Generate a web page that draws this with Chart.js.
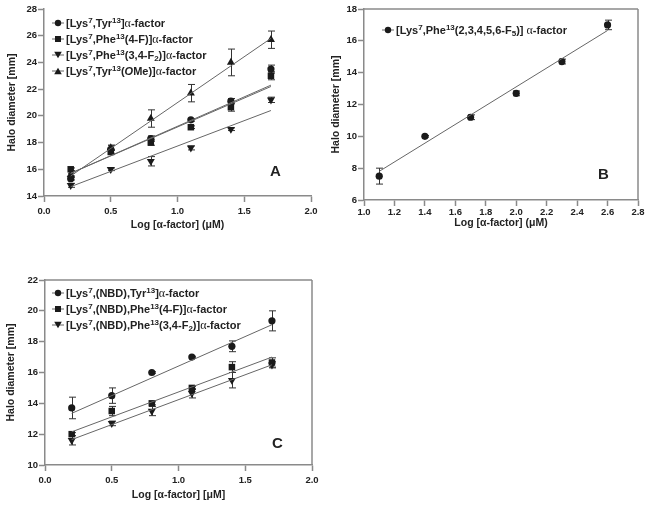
<!DOCTYPE html>
<html>
<head>
<meta charset="utf-8">
<script src="https://cdn.jsdelivr.net/npm/chart.js@4.4.0/dist/chart.umd.min.js"></script>
<style>
body{margin:0;background:#fff;width:649px;height:506px;position:relative;overflow:hidden;font-family:"Liberation Sans",Arial,sans-serif}
canvas{position:absolute}
.leg{position:absolute;font-weight:bold;font-size:11px;color:#222;white-space:nowrap}
.leg div{height:16px;line-height:16px}
.leg svg{vertical-align:middle;margin-right:2px;position:relative;top:-1px}
.leg sup{font-size:8px;position:relative;top:-4px;vertical-align:baseline}
.leg sub{font-size:8px;position:relative;top:2px;vertical-align:baseline}
.a{font-family:"Liberation Serif",serif;font-weight:normal;font-size:12px}
.lbl{position:absolute;font-weight:bold;font-size:15px;color:#222}
</style>
</head>
<body>
<canvas id="cA" width="330" height="240" style="left:0;top:0"></canvas>
<canvas id="cB" width="327" height="240" style="left:322px;top:0"></canvas>
<canvas id="cC" width="330" height="236" style="left:0;top:270px"></canvas>

<div class="leg" id="legA" style="left:52px;top:15px"></div>
<div class="leg" id="legB" style="left:382px;top:22px"></div>
<div class="leg" id="legC" style="left:52px;top:285px"></div>
<div class="lbl" style="left:270px;top:162px">A</div>
<div class="lbl" style="left:598px;top:165px">B</div>
<div class="lbl" style="left:272px;top:434px">C</div>

<script>
// panel A
var xA = [0.2, 0.5, 0.8, 1.1, 1.4, 1.7]
var tyr = [15.3, 17.5, 18.3, 19.7, 21.1, 23.5]
var tyrErr = [0.1, 0.3, 0.2, 0.1, 0.2, 0.3]
var phe4F = [16.0, 17.3, 18.0, 19.15, 20.65, 23.0]
var phe4FErr = [0.1, 0.2, 0.2, 0.1, 0.3, 0.3]
var phe34F2 = [14.8, 16.0, 16.6, 17.6, 19.0, 21.2]
var phe34F2Err = [0.15, 0.1, 0.35, 0.15, 0.1, 0.2]
var tyrOMe = [15.6, 17.6, 19.8, 21.7, 24.0, 25.7]
var tyrOMeErr = [0.1, 0.2, 0.65, 0.65, 1.0, 0.65]
// fitted line ends (at first and last x)
var tyrFit = [15.7, 22.3]
var phe4FFit = [15.7, 22.2]
var phe34F2Fit = [14.7, 20.4]
var tyrOMeFit = [15.5, 25.8]

// panel B
var xB = [1.1, 1.4, 1.7, 2.0, 2.3, 2.6]
var pheF5 = [7.5, 10.0, 11.2, 12.7, 14.7, 17.0]
var pheF5Err = [0.5, 0.05, 0.15, 0.15, 0.15, 0.3]
var pheF5Fit = [7.8, 16.65]

// panel C
var xC = [0.2, 0.5, 0.8, 1.1, 1.4, 1.7]
var nbdTyr = [13.7, 14.5, 16.0, 17.0, 17.7, 19.35]
var nbdTyrErr = [0.7, 0.5, 0.05, 0.05, 0.35, 0.65]
var nbdPhe4F = [12.0, 13.5, 14.0, 15.0, 16.35, 16.65]
var nbdPhe4FErr = [0.1, 0.3, 0.1, 0.1, 0.35, 0.3]
var nbdPhe34F2 = [11.6, 12.7, 13.5, 14.65, 15.5, 16.5]
var nbdPhe34F2Err = [0.3, 0.15, 0.3, 0.3, 0.5, 0.2]
var nbdTyrFit = [13.35, 19.1]
var nbdPhe4FFit = [12.15, 17.0]
var nbdPhe34F2Fit = [11.65, 16.5]

var A = '<span class="a">α</span>'
var labelsA = [
    "[Lys<sup>7</sup>,Tyr<sup>13</sup>]" + A + "-factor",
    "[Lys<sup>7</sup>,Phe<sup>13</sup>(4-F)]" + A + "-factor",
    "[Lys<sup>7</sup>,Phe<sup>13</sup>(3,4-F<sub>2</sub>)]" + A + "-factor",
    "[Lys<sup>7</sup>,Tyr<sup>13</sup>(<i>O</i>Me)]" + A + "-factor"
]
var labelsB = ["[Lys<sup>7</sup>,Phe<sup>13</sup>(2,3,4,5,6-F<sub>5</sub>)] " + A + "-factor"]
var labelsC = [
    "[Lys<sup>7</sup>,(NBD),Tyr<sup>13</sup>]" + A + "-factor",
    "[Lys<sup>7</sup>,(NBD),Phe<sup>13</sup>(4-F)]" + A + "-factor",
    "[Lys<sup>7</sup>,(NBD),Phe<sup>13</sup>(3,4-F<sub>2</sub>)]" + A + "-factor"
]

var INK = "#1a1a1a"
var AXIS = "#8a8a8a"
var FIT = "#666"

var marks = {
    circle: { pointStyle: "circle", radius: 3.6, rotation: 0 },
    square: { pointStyle: "rect", radius: 4.6, rotation: 0 },
    down: { pointStyle: "triangle", radius: 4.6, rotation: 180 },
    up: { pointStyle: "triangle", radius: 4.6, rotation: 0 }
}

function svg_mark(kind) {
    var s = '<svg width="12" height="10" viewBox="0 0 12 10"><line x1="0" y1="5" x2="12" y2="5" stroke="' + FIT + '" stroke-width="1"/>'
    if (kind == "circle") s += '<circle cx="6" cy="5" r="3.2" fill="' + INK + '"/>'
    if (kind == "square") s += '<rect x="3" y="2" width="6" height="6" fill="' + INK + '"/>'
    if (kind == "down") s += '<polygon points="2.2,1.8 9.8,1.8 6,8.2" fill="' + INK + '"/>'
    if (kind == "up") s += '<polygon points="2.2,8.2 9.8,8.2 6,1.8" fill="' + INK + '"/>'
    return s + '</svg>'
}

function legenda(id, labels, kinds) {
    var html = ""
    labels.forEach((l, i) => {
        html += "<div>" + svg_mark(kinds[i]) + l + "</div>"
    })
    document.getElementById(id).innerHTML = html
}

const errorBars = {
    id: "errorBars",
    beforeDatasetsDraw(chart) {
        const ctx = chart.ctx
        const x = chart.scales.x, y = chart.scales.y
        chart.data.datasets.forEach(ds => {
            if (!ds.errors) return
            ctx.save()
            ctx.strokeStyle = "#333"
            ctx.lineWidth = 1
            ds.data.forEach((p, i) => {
                const e = ds.errors[i]
                if (!e) return
                const px = Math.round(x.getPixelForValue(p.x)) + 0.5
                const y1 = y.getPixelForValue(p.y + e), y2 = y.getPixelForValue(p.y - e)
                ctx.beginPath()
                ctx.moveTo(px, y1); ctx.lineTo(px, y2)
                ctx.moveTo(px - 3.5, y1); ctx.lineTo(px + 3.5, y1)
                ctx.moveTo(px - 3.5, y2); ctx.lineTo(px + 3.5, y2)
                ctx.stroke()
            })
            ctx.restore()
        })
    }
}

const frame = {
    id: "frame",
    afterDraw(chart, args, opts) {
        const a = chart.chartArea, ctx = chart.ctx
        ctx.save()
        ctx.strokeStyle = AXIS
        ctx.lineWidth = 1.5
        ctx.beginPath()
        if (opts.top) { ctx.moveTo(a.left, a.top); ctx.lineTo(a.right, a.top) }
        if (opts.right) { ctx.moveTo(a.right, a.top); ctx.lineTo(a.right, a.bottom) }
        ctx.stroke()
        ctx.restore()
    }
}

function pontos(xs, ys, errs, kind) {
    const m = marks[kind]
    return {
        data: xs.map((x, i) => ({ x: x, y: ys[i] })),
        errors: errs,
        showLine: false,
        pointStyle: m.pointStyle,
        pointRadius: m.radius,
        pointRotation: m.rotation,
        pointBackgroundColor: INK,
        pointBorderColor: INK,
        pointBorderWidth: 0
    }
}

function recta(xs, fit) {
    return {
        data: [{ x: xs[0], y: fit[0] }, { x: xs[xs.length - 1], y: fit[1] }],
        showLine: true,
        borderColor: FIT,
        borderWidth: 1,
        pointRadius: 0
    }
}

function criar_grafico(id, cfg) {
    const tickFont = { family: "Liberation Sans", weight: "bold", size: 9.5 }
    const titleFont = { family: "Liberation Sans", weight: "bold", size: 10.5 }
    return new Chart(document.getElementById(id), {
        type: "scatter",
        data: { datasets: cfg.datasets },
        plugins: [errorBars, frame],
        options: {
            responsive: false,
            animation: false,
            devicePixelRatio: 1,
            layout: { padding: cfg.padding },
            plugins: {
                legend: { display: false },
                tooltip: { enabled: false },
                frame: cfg.frame
            },
            scales: {
                x: {
                    type: "linear",
                    min: cfg.xmin, max: cfg.xmax,
                    ticks: { stepSize: cfg.xstep, font: tickFont, color: "#222", padding: cfg.xtickPad,
                        callback: v => v.toFixed(1) },
                    grid: { drawOnChartArea: false, tickLength: 6, tickColor: AXIS, tickWidth: 1.5 },
                    border: { color: AXIS, width: 1.5 },
                    title: { display: true, text: cfg.xtitle, font: titleFont, color: "#222",
                        padding: { top: 0, bottom: cfg.xtitlePad } },
                    afterFit: s => { s.height = cfg.xh }
                },
                y: {
                    type: "linear",
                    min: cfg.ymin, max: cfg.ymax,
                    ticks: { stepSize: 2, font: tickFont, color: "#222", padding: 1 },
                    grid: { drawOnChartArea: false, tickLength: 6, tickColor: AXIS, tickWidth: 1.5 },
                    border: { color: AXIS, width: 1.5 },
                    title: { display: true, text: "Halo diameter [mm]", font: titleFont, color: "#222",
                        padding: { top: cfg.ytitlePad, bottom: 0 } },
                    afterFit: s => { s.width = cfg.yw }
                }
            }
        }
    })
}

criar_grafico("cA", {
    datasets: [
        recta(xA, tyrFit), recta(xA, phe4FFit), recta(xA, phe34F2Fit), recta(xA, tyrOMeFit),
        pontos(xA, tyr, tyrErr, "circle"),
        pontos(xA, phe4F, phe4FErr, "square"),
        pontos(xA, phe34F2, phe34F2Err, "down"),
        pontos(xA, tyrOMe, tyrOMeErr, "up")
    ],
    xmin: 0, xmax: 2, xstep: 0.5, ymin: 14, ymax: 28,
    xtitle: "Log [α-factor] (μM)",
    padding: { left: 0, right: 19, top: 9, bottom: 0 },
    xh: 44, yw: 44, xtitlePad: 8.7, ytitlePad: 5.7, xtickPad: 4,
    frame: { top: false, right: false }
})

criar_grafico("cB", {
    datasets: [
        recta(xB, pheF5Fit),
        pontos(xB, pheF5, pheF5Err, "circle")
    ],
    xmin: 1.0, xmax: 2.8, xstep: 0.2, ymin: 6, ymax: 18,
    xtitle: "Log [α-factor] (μM)",
    padding: { left: 0, right: 11, top: 9, bottom: 0 },
    xh: 40, yw: 42, xtitlePad: 11, ytitlePad: 7.7, xtickPad: 1,
    frame: { top: true, right: true }
})

criar_grafico("cC", {
    datasets: [
        recta(xC, nbdTyrFit), recta(xC, nbdPhe4FFit), recta(xC, nbdPhe34F2Fit),
        pontos(xC, nbdTyr, nbdTyrErr, "circle"),
        pontos(xC, nbdPhe4F, nbdPhe4FErr, "square"),
        pontos(xC, nbdPhe34F2, nbdPhe34F2Err, "down")
    ],
    xmin: 0, xmax: 2, xstep: 0.5, ymin: 10, ymax: 22,
    xtitle: "Log [α-factor] [μM]",
    padding: { left: 0, right: 18, top: 10, bottom: 0 },
    xh: 41, yw: 45, xtitlePad: 4.7, ytitlePad: 4.7, xtickPad: 4,
    frame: { top: true, right: true }
})

legenda("legA", labelsA, ["circle", "square", "down", "up"])
legenda("legB", labelsB, ["circle"])
legenda("legC", labelsC, ["circle", "square", "down"])
</script>
</body>
</html>
